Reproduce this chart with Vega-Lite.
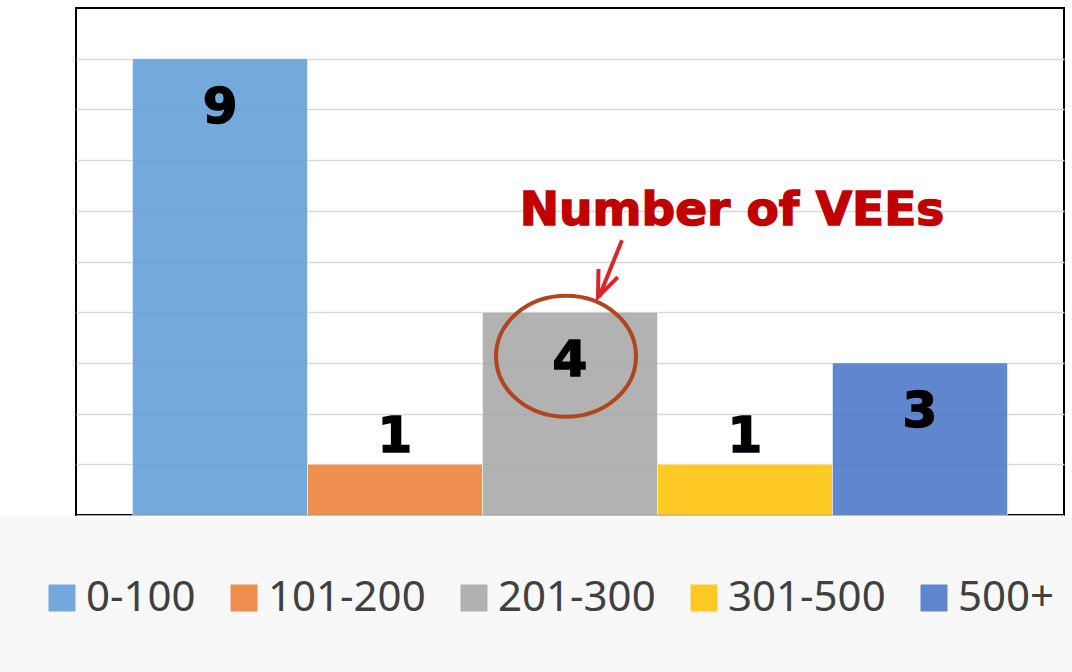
{
  "$schema": "https://vega.github.io/schema/vega-lite/v6.json",
  "width": 988,
  "height": 507,
  "autosize": {"type": "none"},
  "padding": {"left": 76, "top": 8, "right": 8, "bottom": 157},
  "background": "white",
  "config": {
    "view": {"stroke": "#000000", "strokeWidth": 2},
    "axisX": {"labels": false, "ticks": false, "domain": true, "domainColor": "#a6a6a6", "grid": false, "title": null},
    "axisY": {"labels": false, "ticks": false, "domain": false, "grid": true, "gridColor": "#d9d9d9", "gridWidth": 1.5, "title": null}
  },
  "datasets": {
    "bars": [
      {"range": "0-100", "count": 9},
      {"range": "101-200", "count": 1},
      {"range": "201-300", "count": 4},
      {"range": "301-500", "count": 1},
      {"range": "500+", "count": 3}
    ],
    "note": [{"range": "301-500", "y": 6, "text": "Number of VEEs"}],
    "circle": [{"range": "201-300", "y": 3.13}],
    "arrow": [{"range": "201-300", "y": 5.42, "y2": 4.3}]
  },
  "layer": [
    {
      "data": {"name": "bars"},
      "mark": {"type": "bar", "fillOpacity": 0.85, "stroke": "#ffffff", "strokeWidth": 1, "strokeOpacity": 0.5},
      "encoding": {
        "x": {
          "field": "range", "type": "nominal",
          "scale": {"domain": ["0-100", "101-200", "201-300", "301-500", "500+"], "paddingInner": 0, "paddingOuter": 0.323},
          "axis": {"title": null}
        },
        "y": {
          "field": "count", "type": "quantitative",
          "scale": {"domain": [0, 10], "nice": false},
          "axis": {"values": [1, 2, 3, 4, 5, 6, 7, 8, 9], "title": null}
        },
        "color": {
          "field": "range", "type": "nominal",
          "scale": {"domain": ["0-100", "101-200", "201-300", "301-500", "500+"], "range": ["#5B9BD5", "#ED7D31", "#A5A5A5", "#FFC000", "#4472C4"]},
          "legend": {
            "orient": "none", "legendX": -95, "legendY": 509, "direction": "horizontal", "columns": 5,
            "title": null, "fillColor": "#f8f8f8", "padding": 60,
            "symbolType": "square", "symbolSize": 729, "symbolOpacity": 0.85, "symbolStrokeWidth": 0,
            "labelFontSize": 42, "labelFont": "Noto Sans", "labelColor": "#404040", "labelOffset": 3,
            "columnPadding": 27, "labelLimit": 400
          }
        }
      }
    },
    {
      "data": {"name": "bars"},
      "transform": [{"filter": "datum.count > 1"}],
      "mark": {"type": "text", "font": "DejaVu Sans", "fontWeight": "bold", "fontSize": 50, "color": "#000000", "stroke": "#000000", "strokeWidth": 1.5, "baseline": "middle", "dy": 49},
      "encoding": {
        "x": {"field": "range", "type": "nominal"},
        "y": {"field": "count", "type": "quantitative"},
        "text": {"field": "count", "type": "quantitative"}
      }
    },
    {
      "data": {"name": "bars"},
      "transform": [{"filter": "datum.count <= 1"}],
      "mark": {"type": "text", "font": "DejaVu Sans", "fontWeight": "bold", "fontSize": 50, "color": "#000000", "stroke": "#000000", "strokeWidth": 1.5, "baseline": "middle", "dy": -27},
      "encoding": {
        "x": {"field": "range", "type": "nominal"},
        "y": {"field": "count", "type": "quantitative"},
        "text": {"field": "count", "type": "quantitative"}
      }
    },
    {
      "data": {"name": "note"},
      "mark": {"type": "text", "font": "DejaVu Sans", "fontWeight": "bold", "fontSize": 47, "color": "#c00000", "stroke": "#c00000", "strokeWidth": 1.5, "baseline": "middle", "align": "center", "dx": -13},
      "encoding": {
        "x": {"field": "range", "type": "nominal"},
        "y": {"field": "y", "type": "quantitative"},
        "text": {"field": "text", "type": "nominal"}
      }
    },
    {
      "data": {"name": "circle"},
      "mark": {"type": "point", "shape": "M-1,0A1,0.864 0 1,1 1,0A1,0.864 0 1,1 -1,0Z", "size": 19600, "filled": false, "stroke": "#b0461f", "strokeWidth": 4, "opacity": 1, "xOffset": -4},
      "encoding": {
        "x": {"field": "range", "type": "nominal"},
        "y": {"field": "y", "type": "quantitative"}
      }
    },
    {
      "data": {"name": "arrow"},
      "mark": {"type": "rule", "stroke": "#d9262b", "strokeWidth": 4, "xOffset": 52, "x2Offset": 29},
      "encoding": {
        "x": {"field": "range", "type": "nominal"},
        "x2": {"field": "range"},
        "y": {"field": "y", "type": "quantitative"},
        "y2": {"field": "y2"}
      }
    },
    {
      "data": {"name": "arrow"},
      "mark": {"type": "point", "shape": "M-0.375,-0.927L0,0L0.375,-0.927", "size": 3136, "filled": false, "stroke": "#d9262b", "strokeWidth": 4, "opacity": 1, "angle": 23, "xOffset": 28},
      "encoding": {
        "x": {"field": "range", "type": "nominal"},
        "y": {"field": "y2", "type": "quantitative"}
      }
    }
  ]
}
